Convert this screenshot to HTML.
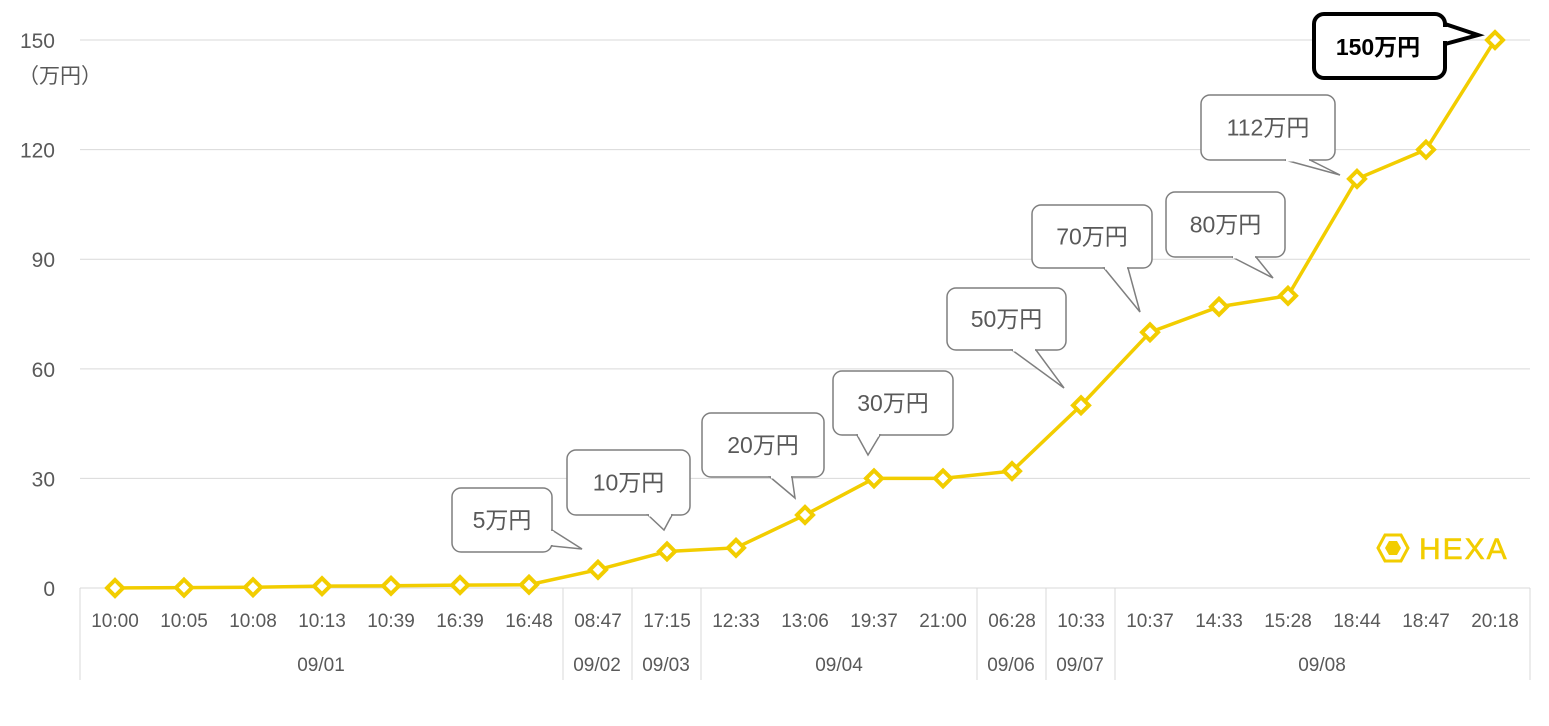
<!DOCTYPE html>
<html><head><meta charset="utf-8"><style>
body{margin:0;background:#fff;}
svg{display:block;font-family:"Liberation Sans","Noto Sans CJK JP",sans-serif;}
</style></head><body>
<svg id="s" width="1549" height="726" xmlns="http://www.w3.org/2000/svg"></svg>
<script>
const s=document.getElementById('s');let h='';
const Y=v=>588-v*3.653;
[0,30,60,90,120,150].forEach(v=>{const y=Y(v);
 if(v>0)h+=`<line x1="80" x2="1530" y1="${y}" y2="${y}" stroke="#d9d9d9" stroke-width="1"/>`;
 h+=`<text x="55" y="${y+8}" font-size="21" fill="#595959" text-anchor="end">${v}</text>`;});
h+=`<text x="18" y="83" font-size="21" fill="#595959">（万円）</text>`;
h+=`<line x1="80" x2="1530" y1="588" y2="588" stroke="#d9d9d9"/>`;
[80,563,632,701,977,1046,1115,1530].forEach(x=>h+=`<line x1="${x}" x2="${x}" y1="588" y2="680" stroke="#d9d9d9"/>`);
const t=["10:00","10:05","10:08","10:13","10:39","16:39","16:48","08:47","17:15","12:33","13:06","19:37","21:00","06:28","10:33","10:37","14:33","15:28","18:44","18:47","20:18"];
const v=[0,0.1,0.2,0.5,0.6,0.8,0.9,5,10,11,20,30,30,32,50,70,77,80,112,120,150];
const X=i=>115+i*69;
t.forEach((s,i)=>h+=`<text x="${X(i)}" y="627" font-size="19" fill="#595959" text-anchor="middle">${s}</text>`);
[["09/01",321],["09/02",597],["09/03",666],["09/04",839],["09/06",1011],["09/07",1080],["09/08",1322]].forEach(d=>h+=`<text x="${d[1]}" y="671" font-size="19" fill="#595959" text-anchor="middle">${d[0]}</text>`);
h+=`<polyline fill="none" stroke="#f2cd00" stroke-width="3.5" points="${v.map((a,i)=>X(i)+','+Y(a)).join(' ')}"/>`;
v.forEach((a,i)=>{const x=X(i),y=Y(a);h+=`<polygon points="${x},${y-8} ${x+8},${y} ${x},${y+8} ${x-8},${y}" fill="#fff" stroke="#f2cd00" stroke-width="4"/>`;});
const C=[[452,488,552,552,"5万円",[[552,530],[552,546]],[582,549]],
[567,450,690,515,"10万円",[[648,515],[672,515]],[664,530]],
[702,413,824,477,"20万円",[[770,477],[792,477]],[795,498]],
[833,371,953,435,"30万円",[[857,435],[880,435]],[868,455]],
[947,288,1066,350,"50万円",[[1012,350],[1036,350]],[1064,388]],
[1032,205,1152,268,"70万円",[[1104,268],[1128,268]],[1140,312]],
[1166,192,1285,257,"80万円",[[1232,257],[1256,257]],[1273,278]],
[1201,95,1335,160,"112万円",[[1285,160],[1310,160]],[1340,175]]];
C.forEach(c=>{const [x1,y1,x2,y2,l,b,tp]=c;const w=`${b[0][0]},${b[0][1]} ${tp[0]},${tp[1]} ${b[1][0]},${b[1][1]}`;
h+=`<rect x="${x1}" y="${y1}" width="${x2-x1}" height="${y2-y1}" rx="9" fill="#fff" stroke="#7f7f7f" stroke-width="1.5"/>`;
h+=`<polygon points="${w}" fill="#fff" stroke="#7f7f7f" stroke-width="1.5"/>`;
const vert=b[0][0]===b[1][0];
if(vert)h+=`<line x1="${b[0][0]}" x2="${b[0][0]}" y1="${b[0][1]+1}" y2="${b[1][1]-1}" stroke="#fff" stroke-width="3"/>`;
else h+=`<line x1="${b[0][0]+1}" x2="${b[1][0]-1}" y1="${y2}" y2="${y2}" stroke="#fff" stroke-width="3"/>`;
h+=`<text x="${(x1+x2)/2}" y="${(y1+y2)/2+8}" font-size="23" fill="#595959" text-anchor="middle">${l}</text>`;});
h+=`<rect x="1314" y="14" width="131" height="64" rx="10" fill="#fff" stroke="#000" stroke-width="4"/>`;
h+=`<polygon points="1445,24 1478,35 1445,44" fill="#fff" stroke="#000" stroke-width="4" stroke-linejoin="miter"/>`;
h+=`<line x1="1445" x2="1445" y1="27" y2="41" stroke="#fff" stroke-width="6"/>`;
h+=`<text x="1378" y="55" font-size="23" font-weight="bold" fill="#000" text-anchor="middle">150万円</text>`;
h+=`<polygon points="1378,548 1385,535 1401,535 1408,548 1401,561 1385,561" fill="none" stroke="#f2cd00" stroke-width="3"/>`;
h+=`<polygon points="1385,548 1389,541 1397,541 1401,548 1397,555 1389,555" fill="#f2cd00"/>`;
h+=`<text x="1419" y="559" font-size="30" fill="#f2cd00" letter-spacing="2" stroke="#f2cd00" stroke-width="0.6">HEXA</text>`;
s.innerHTML=h;
</script>
</body></html>
